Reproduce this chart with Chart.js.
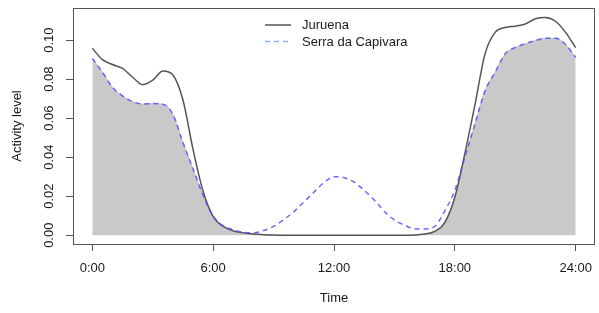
<!DOCTYPE html>
<html>
<head>
<meta charset="utf-8">
<script src="https://cdn.jsdelivr.net/npm/chart.js@4"></script>
<style>
  body { margin: 0; background: #fff; }
  canvas { display: block; }
</style>
</head>
<body>
<canvas id="activityChart" width="599" height="313"></canvas>
<script>
// Hours of the day (x values)
const hours = [
    0, 0.5, 1, 1.5, 2, 2.5, 3, 3.5, 4, 4.5, 5, 5.5, 6, 6.5, 7, 7.5, 8, 8.5,
    9, 9.5, 10, 10.5, 11, 11.5, 12, 12.5, 13, 13.5, 14, 14.5, 15, 15.5, 16,
    16.5, 17, 17.5, 18, 18.5, 19, 19.5, 20, 20.5, 21, 21.5, 22, 22.5, 23, 23.5, 24
];

// Juruena activity
const juruena = [
    0.0958, 0.0900, 0.0875, 0.0855, 0.0810, 0.0772, 0.0795, 0.0842, 0.0822, 0.0693,
    0.0440, 0.0225, 0.0095, 0.0045, 0.0022, 0.0012, 0.0006, 0.0003,
    0.0001, 0, 0, 0, 0, 0, 0, 0, 0, 0, 0, 0, 0, 0, 0.0001,
    0.0006, 0.0020, 0.0065, 0.0195, 0.0420, 0.0670, 0.0930, 0.1040, 0.1065,
    0.1072, 0.1083, 0.1110, 0.1116, 0.1097, 0.1040, 0.0962
];

// Serra da Capivara activity
const capivara = [
    0.0906, 0.0836, 0.0758, 0.0714, 0.0685, 0.0673, 0.0675, 0.0672, 0.0620, 0.0475,
    0.0340, 0.0205, 0.0098, 0.0048, 0.0028, 0.0015, 0.0012, 0.0024,
    0.0045, 0.0080, 0.0120, 0.0170, 0.0220, 0.0270, 0.0300, 0.0295, 0.0272, 0.0230,
    0.0180, 0.0122, 0.0078, 0.0052, 0.0033,
    0.0032, 0.0045, 0.0125, 0.0230, 0.0400, 0.0570, 0.0740, 0.0835, 0.0930,
    0.0963, 0.0982, 0.0998, 0.1010, 0.1010, 0.0978, 0.0912
];

const seriesNames = ['Juruena', 'Serra da Capivara'];

const xTickValues = [0, 6, 12, 18, 24];
const xTickLabels = ['0:00', '6:00', '12:00', '18:00', '24:00'];
const yTickValues = [0, 0.02, 0.04, 0.06, 0.08, 0.10];
const yTickLabels = ['0.00', '0.02', '0.04', '0.06', '0.08', '0.10'];

const FONT = '"Liberation Sans", Arial, Helvetica, sans-serif';
const TEXT = '#1a1a1a';

// overlap of the two curves, shaded grey
const overlap = juruena.map((v, i) => Math.min(v, capivara[i]));
const toPoints = arr => arr.map((v, i) => ({ x: hours[i], y: v }));

// white background + box + rotated y labels + legend
const rPlot = {
    id: 'rPlot',
    beforeDraw(chart) {
        const ctx = chart.ctx;
        ctx.save();
        ctx.fillStyle = '#fff';
        ctx.fillRect(0, 0, chart.width, chart.height);
        ctx.restore();
    },
    afterDraw(chart) {
        const { ctx, chartArea: a, scales } = chart;
        ctx.save();
        ctx.strokeStyle = '#555';
        ctx.lineWidth = 1;
        ctx.strokeRect(a.left + 0.5, a.top + 0.5, a.right - a.left - 1, a.bottom - a.top);

        // y tick labels, parallel to the axis like R
        ctx.fillStyle = TEXT;
        ctx.font = '13px ' + FONT;
        ctx.textAlign = 'center';
        ctx.textBaseline = 'middle';
        yTickValues.forEach((v, i) => {
            const y = scales.y.getPixelForValue(v);
            ctx.save();
            ctx.translate(49, y);
            ctx.rotate(-Math.PI / 2);
            ctx.fillText(yTickLabels[i], 0, 0);
            ctx.restore();
        });

        // legend
        const ds = chart.data.datasets;
        const rows = [ds[0], ds[1]];
        ctx.textAlign = 'left';
        rows.forEach((d, i) => {
            const y = 25 + i * 16.5;
            ctx.beginPath();
            ctx.strokeStyle = d.legendColor || d.borderColor;
            ctx.lineWidth = d.borderWidth;
            ctx.setLineDash(d.borderDash || []);
            ctx.moveTo(265, y);
            ctx.lineTo(291, y);
            ctx.stroke();
            ctx.setLineDash([]);
            ctx.fillStyle = TEXT;
            ctx.fillText(d.label, 302, y + 0.5);
        });
        ctx.restore();
    }
};

new Chart(document.getElementById('activityChart'), {
    type: 'line',
    data: {
        datasets: [
            {
                label: seriesNames[0],
                data: toPoints(juruena),
                borderColor: '#555555',
                borderWidth: 1.5,
                pointRadius: 0,
                cubicInterpolationMode: 'monotone',
                fill: false,
                order: 1
            },
            {
                label: seriesNames[1],
                data: toPoints(capivara),
                borderColor: 'rgba(80, 80, 255, 0.85)',
                legendColor: 'rgba(120, 170, 255, 0.9)',
                borderWidth: 1.5,
                borderDash: [5, 4],
                pointRadius: 0,
                cubicInterpolationMode: 'monotone',
                fill: false,
                order: 0
            },
            {
                label: 'overlap',
                data: toPoints(overlap),
                borderColor: '#bdbdbd',
                borderWidth: 0.8,
                backgroundColor: '#c9c9c9',
                pointRadius: 0,
                cubicInterpolationMode: 'monotone',
                fill: 'origin',
                order: 2
            }
        ]
    },
    options: {
        responsive: false,
        animation: false,
        layout: { padding: { left: 0, right: 4, top: 8, bottom: 0 } },
        plugins: {
            legend: { display: false },
            tooltip: { enabled: false }
        },
        scales: {
            x: {
                type: 'linear',
                min: -0.96,
                max: 24.96,
                afterFit: s => { s.height = 69; s.paddingLeft = 0; s.paddingRight = 0; },
                afterBuildTicks: s => { s.ticks = xTickValues.map(v => ({ value: v })); },
                grid: { display: true, drawOnChartArea: false, drawTicks: true, tickLength: 7, color: '#555' },
                border: { display: false },
                ticks: {
                    color: TEXT,
                    font: { family: FONT, size: 13 },
                    padding: 10,
                    maxRotation: 0,
                    callback: v => xTickLabels[xTickValues.indexOf(v)]
                },
                title: {
                    display: true,
                    text: 'Time',
                    color: TEXT,
                    font: { family: FONT, size: 13 },
                    padding: { top: 8, bottom: 7 }
                }
            },
            y: {
                type: 'linear',
                min: -0.0045,
                max: 0.1165,
                afterFit: s => { s.width = 73; s.paddingTop = 0; s.paddingBottom = 0; },
                afterBuildTicks: s => { s.ticks = yTickValues.map(v => ({ value: v })); },
                grid: { display: true, drawOnChartArea: false, drawTicks: true, tickLength: 7, color: '#555' },
                border: { display: false },
                ticks: { display: false },
                title: {
                    display: true,
                    text: 'Activity level',
                    color: TEXT,
                    font: { family: FONT, size: 13 },
                    padding: { top: 10, bottom: 0 }
                }
            }
        }
    },
    plugins: [rPlot]
});
</script>
</body>
</html>
